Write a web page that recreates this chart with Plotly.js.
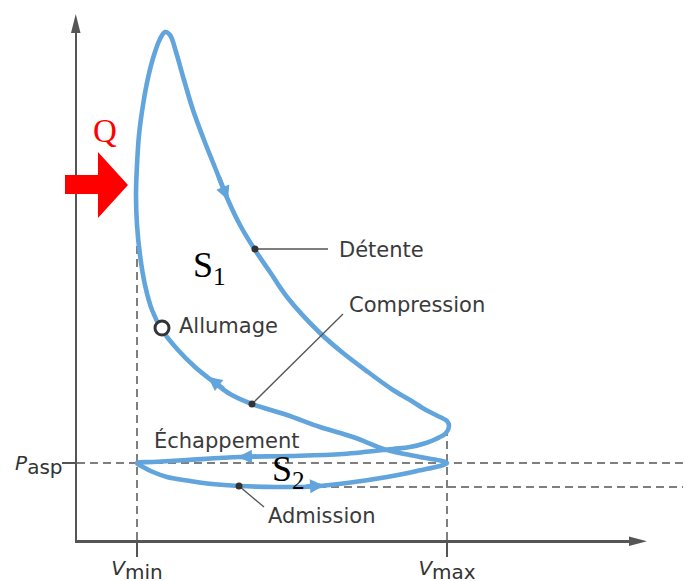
<!DOCTYPE html>
<html>
<head>
<meta charset="utf-8">
<script src="https://cdn.plot.ly/plotly-3.0.1.min.js"></script>
<style>html,body{margin:0;padding:0;background:#fff;}</style>
</head>
<body>
<div id="chart" style="width:686px;height:581px;"></div>
<script>
// ---- Data (arbitrary units) ----
// Full engine cycle: compression -> combustion peak -> expansion -> exhaust -> intake
const cycleV = [37.0, 34.3, 31.0, 27.6, 24.3, 21.0, 17.5, 15.3, 13.8, 11.8, 10.1, 8.5, 7.5, 6.8, 6.3, 6.0, 5.9, 6.0, 6.2, 6.6, 7.1, 7.7, 8.3, 8.8,
                9.3, 9.9, 10.7, 11.6, 12.7, 13.9, 15.1, 16.3, 17.8, 19.3, 21.0, 24.3, 26.6, 29.1, 31.6, 33.3, 34.9, 36.3, 37.0, 37.2, 36.9, 35.9, 34.9, 33.3,
                31.6, 26.6, 21.3, 16.3, 11.0, 7.6, 6.0,
                6.6, 7.6, 9.0, 11.0, 13.5, 16.2, 20.0, 23.6, 27.0, 31.0, 34.0, 37.0];
const cycleP = [7.7, 8.3, 9.0, 10.3, 11.3, 12.5, 13.6, 14.6, 15.7, 17.3, 19.0, 21.0, 23.0, 25.5, 28.5, 31.5, 34.5, 37.5, 40.5, 43.5, 46.2, 48.5, 50.1, 50.8,
                50.5, 48.8, 46.0, 43.0, 40.0, 37.0, 34.0, 31.5, 29.0, 26.8, 24.3, 20.7, 18.7, 16.8, 15.0, 14.0, 13.0, 12.3, 11.9, 11.4, 10.7, 10.1, 9.7, 9.3,
                9.1, 8.6, 8.4, 8.3, 8.0, 7.8, 7.7,
                7.3, 6.8, 6.3, 5.95, 5.6, 5.4, 5.3, 5.35, 5.7, 6.3, 6.9, 7.7];

const V_MIN = 6.0, V_MAX = 37.0, P_ASP = 7.7, P_ADM = 5.3;
const tickLabelsV = ['<i>V</i><sub><span style="font-size:20px">min</span></sub>', '<i>V</i><sub><span style="font-size:20px">max</span></sub>'];
const tickLabelsP = ['<i>P</i><sub><span style="font-size:20px">asp</span></sub>'];

// Labelled phases: dot on curve, leader end, label position
const phaseNames = ['Détente', 'Compression', 'Admission'];
const phaseDotV = [17.8, 17.5, 16.2];
const phaseDotP = [29.1, 13.6, 5.4];
const leaderEndV = [25.1, 26.6, 18.7];
const leaderEndP = [29.1, 22.6, 3.3];
const phaseLabelV = [26.0, 27.0, 18.9];
const phaseLabelP = [29.0, 23.5, 2.4];

// Other labels
const ignitionV = 8.5, ignitionP = 21.2;
const exhaustLabelV = 7.5, exhaustLabelP = 10.0;

// Flow direction arrows (tip / tail)
const flowTipV = [15.1, 13.1, 16.1, 24.7];
const flowTipP = [34.0, 16.3, 8.3, 5.45];
const flowTailV = [14.1, 14.8, 18.1, 22.8];
const flowTailP = [36.5, 15.0, 8.35, 5.35];

// ---- Styles ----
const BLUE = '#62a4dc';
const INK = '#3a3a3a';
const AXIS = '#555555';
const X_MAX = 55.8, Y_MAX = 51.5;
const px = v => v / X_MAX; // data V -> paper x

// leader lines trace from arrays
const leadX = [], leadY = [];
for (let i = 0; i < phaseNames.length; i++) {
  leadX.push(phaseDotV[i], leaderEndV[i], null);
  leadY.push(phaseDotP[i], leaderEndP[i], null);
}

const traces = [
  {x: cycleV, y: cycleP, mode: 'lines', line: {color: BLUE, width: 4.6, shape: 'spline', smoothing: 1}, hoverinfo: 'skip'},
  {x: leadX, y: leadY, mode: 'lines', line: {color: '#555', width: 1.3}, hoverinfo: 'skip'},
  {x: phaseDotV, y: phaseDotP, mode: 'markers', marker: {color: '#333', size: 7}, hoverinfo: 'skip'},
  {x: [ignitionV], y: [ignitionP], mode: 'markers', marker: {symbol: 'circle', color: '#fff', size: 14, line: {color: '#333', width: 3}}, hoverinfo: 'skip'}
];

const dashStyle = {color: AXIS, width: 1.5, dash: '8px,5px'};
const shapes = [
  {type: 'line', layer: 'below', xref: 'paper', yref: 'y', x0: 0, x1: 1.086, y0: P_ASP, y1: P_ASP, line: dashStyle},
  {type: 'line', layer: 'below', xref: 'paper', yref: 'y', x0: px(24.1), x1: 1.086, y0: P_ADM, y1: P_ADM, line: dashStyle},
  {type: 'line', layer: 'below', xref: 'x', yref: 'y', x0: V_MIN, x1: V_MIN, y0: 0, y1: 29.7, line: dashStyle},
  {type: 'line', layer: 'below', xref: 'x', yref: 'y', x0: V_MAX, x1: V_MAX, y0: 0, y1: 11.0, line: dashStyle},
  // heat input arrow
  {type: 'path', xref: 'paper', yref: 'y', fillcolor: '#ff0000', line: {width: 0},
   path: 'M -0.0215,36.5 L 0.0376,36.5 L 0.0376,38.8 L 0.0914,35.5 L 0.0376,32.2 L 0.0376,34.6 L -0.0215,34.6 Z'},
  // axis arrowheads
  {type: 'path', xref: 'paper', yref: 'paper', fillcolor: AXIS, line: {width: 0},
   path: 'M 0.9892,0.0068 L 1.0215,-0.00243 L 0.9892,-0.01165 Z'},
  {type: 'path', xref: 'paper', yref: 'paper', fillcolor: AXIS, line: {width: 0},
   path: 'M -0.01075,0.98447 L -0.00224,1.02136 L 0.00627,0.98447 Z'}
];

const annotations = [];
for (let i = 0; i < flowTipV.length; i++) {
  annotations.push({x: flowTipV[i], y: flowTipP[i], ax: flowTailV[i], ay: flowTailP[i], xref: 'x', yref: 'y', axref: 'x', ayref: 'y',
    text: '', showarrow: true, arrowhead: 2, arrowsize: 0.62, arrowwidth: 4.5, arrowcolor: BLUE, standoff: 0});
}
const textFont = {family: 'DejaVu Sans, sans-serif', size: 21, color: INK};
for (let i = 0; i < phaseNames.length; i++) {
  annotations.push({x: phaseLabelV[i], y: phaseLabelP[i], xref: 'x', yref: 'y', text: phaseNames[i], showarrow: false, xanchor: 'left', yanchor: 'middle', font: textFont});
}
annotations.push({x: ignitionV + 1.5, y: ignitionP + 0.2, xref: 'x', yref: 'y', text: 'Allumage', showarrow: false, xanchor: 'left', yanchor: 'middle', font: textFont});
annotations.push({x: exhaustLabelV, y: exhaustLabelP, xref: 'x', yref: 'y', text: 'Échappement', showarrow: false, xanchor: 'left', yanchor: 'middle', font: textFont});
const serif = {family: 'Liberation Serif, serif', size: 36, color: '#000'};
annotations.push({x: 11.4, y: 27.3, xref: 'x', yref: 'y', text: 'S<sub>1</sub>', showarrow: false, xanchor: 'left', yanchor: 'middle', font: serif});
annotations.push({x: 19.3, y: 6.9, xref: 'x', yref: 'y', text: 'S<sub>2</sub>', showarrow: false, xanchor: 'left', yanchor: 'middle', font: serif});
annotations.push({x: 2.8, y: 40.9, xref: 'x', yref: 'y', text: 'Q', showarrow: false, xanchor: 'center', yanchor: 'middle', font: {family: 'Liberation Serif, serif', size: 33, color: '#ff0000'}});
const axFont = {family: 'DejaVu Sans, sans-serif', size: 20, color: '#333'};
annotations.push({x: -1.7, y: 51.7, xref: 'x', yref: 'y', text: '<i>P</i>', showarrow: false, xanchor: 'center', yanchor: 'middle', font: axFont});
annotations.push({x: 55.8, y: -2.8, xref: 'x', yref: 'y', text: '<i>V</i>', showarrow: false, xanchor: 'center', yanchor: 'middle', font: axFont});

const layout = {
  width: 686, height: 581,
  margin: {l: 77, r: 51, t: 25, b: 41},
  paper_bgcolor: '#fff', plot_bgcolor: '#fff',
  showlegend: false,
  font: {family: 'DejaVu Sans, sans-serif', color: INK, size: 20},
  xaxis: {range: [0, X_MAX], showgrid: false, zeroline: false, showline: true, linecolor: AXIS, linewidth: 2.5,
          ticks: 'outside', ticklen: 14, tickwidth: 2, tickcolor: AXIS, tickvals: [V_MIN, V_MAX], ticktext: tickLabelsV,
          tickfont: axFont, ticklabelstandoff: -6, fixedrange: true},
  yaxis: {range: [0, Y_MAX], showgrid: false, zeroline: false, showline: true, linecolor: AXIS, linewidth: 2.5,
          ticks: 'outside', ticklen: 13, tickwidth: 2, tickcolor: AXIS, tickvals: [P_ASP], ticktext: tickLabelsP,
          tickfont: axFont, ticklabelstandoff: -5, fixedrange: true},
  shapes: shapes,
  annotations: annotations
};

Plotly.newPlot('chart', traces, layout, {staticPlot: true, displayModeBar: false});
</script>
</body>
</html>
